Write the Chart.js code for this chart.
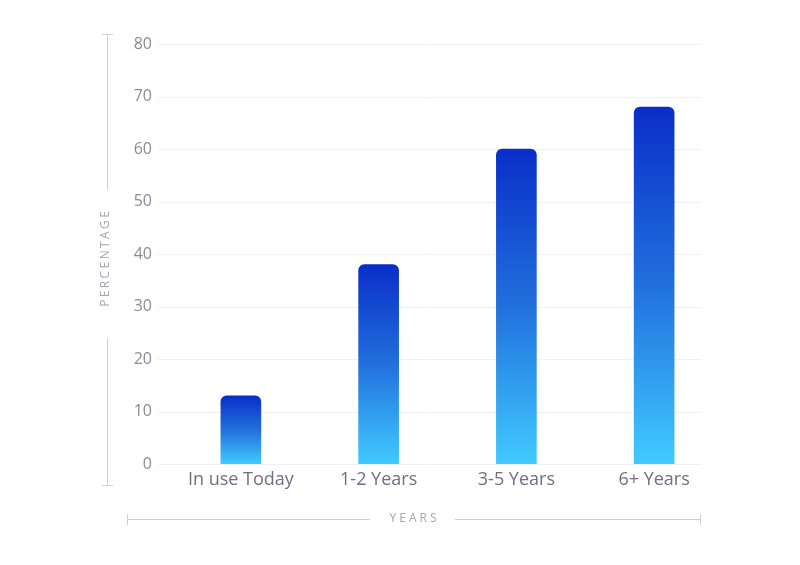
<!DOCTYPE html>
<html>
<head>
<meta charset="utf-8">
<script src="https://cdn.jsdelivr.net/npm/chart.js@4"></script>
<style>
  html, body { margin: 0; padding: 0; background: #fff; }
  #wrap { width: 800px; height: 565px; position: relative; }
</style>
</head>
<body>
<div id="wrap"><canvas id="barChart"></canvas></div>
<script>
// Data
const categories = ['In use Today', '1-2 Years', '3-5 Years', '6+ Years'];
const percentages = [13, 38, 60, 68];
const yTicks = [0, 10, 20, 30, 40, 50, 60, 70, 80];

const FONT = '"Open Sans", "DejaVu Sans", sans-serif';

// vertical gradient per bar, dark at the top, light at the base
function barGradient(context) {
    const chart = context.chart;
    const { ctx, chartArea, scales } = chart;
    if (!chartArea) return '#2a7fe0';
    const v = percentages[context.dataIndex];
    const top = scales.y.getPixelForValue(v);
    const bottom = scales.y.getPixelForValue(0);
    const g = ctx.createLinearGradient(0, top, 0, bottom);
    g.addColorStop(0, '#0a2ec8');
    g.addColorStop(0.5, '#2170dd');
    g.addColorStop(1, '#41caff');
    return g;
}

function spacedText(ctx, text, x, y, spacing) {
    // draws centred text with letter spacing
    let total = 0;
    const widths = [...text].map(ch => ctx.measureText(ch).width);
    widths.forEach(w => total += w);
    total += spacing * (text.length - 1);
    let cx = x - total / 2;
    ctx.textAlign = 'left';
    [...text].forEach((ch, i) => {
        ctx.fillText(ch, cx, y);
        cx += widths[i] + spacing;
    });
}

// faint grid lines and the decorative axis rules with titles
const decorPlugin = {
    id: 'decor',
    beforeDatasetsDraw(chart) {
        const { ctx, scales } = chart;
        ctx.save();
        ctx.strokeStyle = '#f1f1f4';
        ctx.lineWidth = 1;
        yTicks.forEach(t => {
            const y = Math.round(scales.y.getPixelForValue(t)) + 0.5;
            ctx.beginPath();
            ctx.moveTo(158, y);
            ctx.lineTo(701, y);
            ctx.stroke();
        });
        ctx.restore();
    },
    afterDraw(chart) {
        const { ctx } = chart;
        ctx.save();
        ctx.strokeStyle = '#cfcfd6';
        ctx.lineWidth = 1;
        ctx.beginPath();
        // left rule
        ctx.moveTo(107.5, 34); ctx.lineTo(107.5, 190);
        ctx.moveTo(107.5, 338); ctx.lineTo(107.5, 486);
        ctx.moveTo(102, 34.5); ctx.lineTo(113, 34.5);
        ctx.moveTo(102, 485.5); ctx.lineTo(113, 485.5);
        // bottom rule
        ctx.moveTo(127, 519.5); ctx.lineTo(370, 519.5);
        ctx.moveTo(455, 519.5); ctx.lineTo(700, 519.5);
        ctx.moveTo(127.5, 514); ctx.lineTo(127.5, 525);
        ctx.moveTo(700.5, 514); ctx.lineTo(700.5, 525);
        ctx.stroke();

        ctx.fillStyle = '#a4a4b2';
        ctx.font = '12px ' + FONT;
        ctx.textBaseline = 'middle';
        spacedText(ctx, 'YEARS', 413, 519, 3);

        ctx.translate(106, 259);
        ctx.rotate(-Math.PI / 2);
        spacedText(ctx, 'PERCENTAGE', 0, 0, 2.4);
        ctx.restore();
    }
};

const ctx = document.getElementById('barChart').getContext('2d');
const chart = new Chart(ctx, {
    type: 'bar',
    data: {
        labels: categories,
        datasets: [{
            data: percentages,
            backgroundColor: barGradient,
            borderRadius: 6,
            borderSkipped: 'start',
            barThickness: 40
        }]
    },
    options: {
        responsive: true,
        maintainAspectRatio: false,
        animation: false,
        layout: { padding: { top: 44, right: 77, bottom: 0, left: 0 } },
        plugins: {
            legend: { display: false },
            tooltip: { enabled: false }
        },
        scales: {
            x: {
                grid: { display: false, drawTicks: false },
                border: { display: false },
                ticks: {
                    color: '#6f6f84',
                    font: { family: FONT, size: 18 },
                    padding: 5,
                    maxRotation: 0
                },
                afterFit(scale) { scale.height = 101; }
            },
            y: {
                min: 0,
                max: 80,
                grid: { display: false, drawTicks: false },
                border: { display: false },
                afterBuildTicks(scale) {
                    scale.ticks = yTicks.map(v => ({ value: v }));
                },
                ticks: {
                    color: '#8a8a9c',
                    font: { family: FONT, size: 16 },
                    padding: 20
                },
                afterFit(scale) { scale.width = 172; }
            }
        }
    },
    plugins: [decorPlugin]
});
</script>
</body>
</html>
